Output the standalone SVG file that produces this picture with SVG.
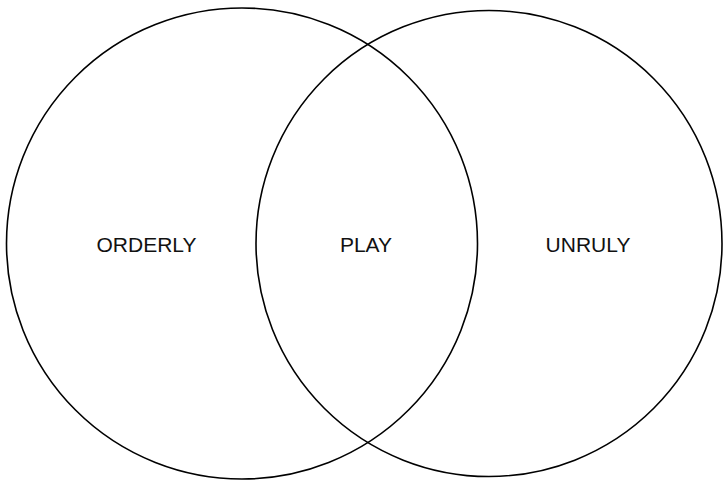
<svg xmlns="http://www.w3.org/2000/svg" width="724" height="481" viewBox="0 0 724 481">
<style>
.c{fill:none;stroke:#000;stroke-width:1.6}
.t{font-family:"Liberation Sans",Arial,sans-serif;font-size:21px;fill:#111;text-anchor:middle}
</style>
<rect width="724" height="481" fill="#fff"/>
<g id="orderly"><circle class="c" cx="242" cy="243.5" r="235.5"/><text class="t" x="146.5" y="252">ORDERLY</text></g>
<g id="unruly"><circle class="c" cx="489" cy="243.5" r="233"/><text class="t" x="588" y="252">UNRULY</text></g>
<g id="play"><text class="t" x="366" y="252">PLAY</text></g>
<g id="connectors"/>
</svg>
